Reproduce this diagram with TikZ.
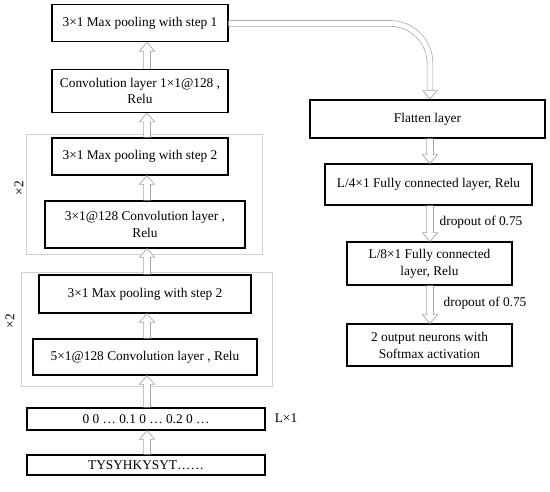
\documentclass[tikz,border=0pt]{standalone}
\usepackage{fontspec}
\setmainfont{Liberation Serif}
\usetikzlibrary{positioning,arrows.meta,calc}

\begin{document}
\begin{tikzpicture}[
    font=\fontsize{9.5}{12}\selectfont,
    layer/.style={draw,line width=0.8pt,align=center,inner sep=2pt},
    group/.style={draw=black!18,line width=0.6pt,inner sep=0pt},
    hollow/.style={draw=black!35,line width=0.5pt,double=white,
      double distance=3.6pt,
      -{Triangle[open,width=11pt,length=6.5pt,line width=0.5pt]}},
    upfat/.style={draw=black!35,fill=white,line width=0.5pt,to path={
      ($(\tikztostart)+(-0.085,0)$) -- ($(\tikztotarget)+(-0.085,-0.22)$)
      -- ($(\tikztotarget)+(-0.19,-0.22)$) -- (\tikztotarget)
      -- ($(\tikztotarget)+(0.19,-0.22)$) -- ($(\tikztotarget)+(0.085,-0.22)$)
      -- ($(\tikztostart)+(0.085,0)$)}},
    downfat/.style={draw=black!35,fill=white,line width=0.5pt,to path={
      ($(\tikztostart)+(-0.085,0)$) -- ($(\tikztotarget)+(-0.085,0.22)$)
      -- ($(\tikztotarget)+(-0.19,0.22)$) -- (\tikztotarget)
      -- ($(\tikztotarget)+(0.19,0.22)$) -- ($(\tikztotarget)+(0.085,0.22)$)
      -- ($(\tikztostart)+(0.085,0)$)}},
    note/.style={inner sep=1pt}
]
\useasboundingbox (0,0) rectangle (13.75,12.275);

\node[group,minimum width=5.9cm,minimum height=3cm] (rep1) at (3.6,7.425) {};
\node[group,minimum width=6.275cm,minimum height=2.85cm] (rep2) at (3.6625,4.05) {};
\node[note,rotate=90] (times1) at (0.475,7.575) {×2};
\node[note,rotate=90] (times2) at (0.25,4.25) {×2};

\node[layer,minimum width=4.4cm,minimum height=0.925cm] (pool1) at (3.5,11.69)
  {3×1 Max pooling with step 1};
\node[layer,minimum width=4.4cm,minimum height=1.075cm] (conv1) at (3.5,10.0)
  {Convolution layer 1×1@128 ,\\Relu};
\node[layer,minimum width=4.4cm,minimum height=0.925cm] (pool2a) at (3.5,8.3625)
  {3×1 Max pooling with step 2};
\node[layer,minimum width=5cm,minimum height=1.175cm] (conv3) at (3.625,6.6625)
  {3×1@128 Convolution layer ,\\Relu};
\node[layer,minimum width=5.3cm,minimum height=0.95cm] (pool2b) at (3.625,4.925)
  {3×1 Max pooling with step 2};
\node[layer,minimum width=5.6cm,minimum height=0.9cm] (conv5) at (3.625,3.35)
  {5×1@128 Convolution layer , Relu};
\node[layer,minimum width=5.95cm,minimum height=0.55cm] (encode) at (3.65,1.8)
  {0 0 … 0.1 0 … 0.2 0 …};
\node[note] (len) at (7.15,1.825) {L×1};
\node[layer,minimum width=5.95cm,minimum height=0.5cm] (seq) at (3.65,0.65)
  {TYSYHKYSYT……};

\node[layer,minimum width=5.875cm,minimum height=0.95cm] (flat) at (10.6875,9.3)
  {Flatten layer};
\node[layer,minimum width=5.175cm,minimum height=1.025cm] (fc4) at (10.7125,7.6625)
  {L/4×1 Fully connected layer, Relu};
\node[layer,minimum width=4.125cm,minimum height=1.075cm] (fc8) at (10.7375,5.6875)
  {L/8×1 Fully connected\\layer, Relu};
\node[layer,minimum width=4.125cm,minimum height=1.05cm] (out) at (10.7375,3.65)
  {2 output neurons with\\Softmax activation};

\coordinate (lx) at (3.675,0);
\coordinate (rx) at (10.75,0);

\draw[upfat] (seq.north -| lx) to (encode.south -| lx);
\draw[upfat] (encode.north -| lx) to (conv5.south -| lx);
\draw[upfat] (conv5.north -| lx) to (pool2b.south -| lx);
\draw[upfat] (pool2b.north -| lx) to (conv3.south -| lx);
\draw[upfat] (conv3.north -| lx) to (pool2a.south -| lx);
\draw[upfat] (pool2a.north -| lx) to (conv1.south -| lx);
\draw[upfat] (conv1.north -| lx) to (pool1.south -| lx);

\draw[hollow,rounded corners=1cm] (pool1.east) -| (flat.north -| rx);
\draw[downfat] (flat.south -| rx) to (fc4.north -| rx);
\draw[downfat] (fc4.south -| rx) to (fc8.north -| rx);
\draw[downfat] (fc8.south -| rx) to (out.north -| rx);
\node[note,anchor=west] (drop1) at (10.95,6.725) {dropout of 0.75};
\node[note,anchor=west] (drop2) at (11.05,4.7) {dropout of 0.75};
\end{tikzpicture}
\end{document}
